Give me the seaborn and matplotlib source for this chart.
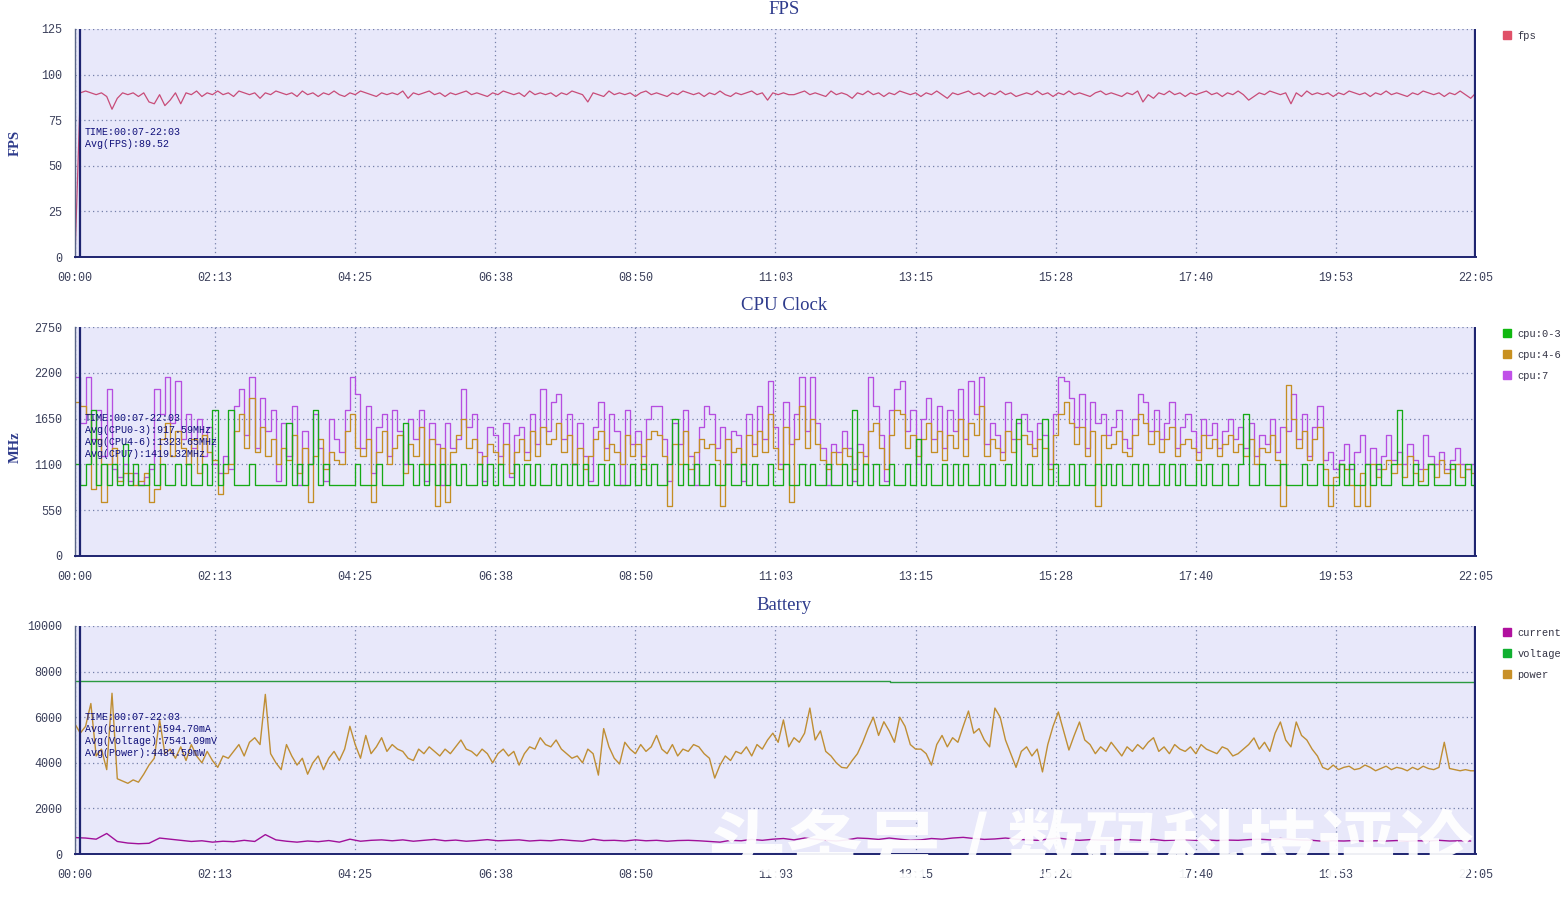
import numpy as np
import matplotlib
matplotlib.use("Agg")
import matplotlib.pyplot as plt
from matplotlib.ticker import MultipleLocator, FixedLocator, FuncFormatter
from matplotlib.lines import Line2D
import seaborn as sns

# ---------------- data ----------------
STEP = 5  # seconds between samples
fps = [
    0, 90, 91, 90, 89, 90, 88, 81, 87, 90,
    89, 90, 88, 90, 85, 84, 89, 83, 86, 90,
    84, 90, 89, 91, 88, 90, 89, 91, 89, 90,
    88, 91, 90, 89, 90, 87, 90, 89, 91, 90,
    89, 90, 88, 91, 89, 90, 88, 90, 89, 91,
    89, 88, 90, 89, 91, 90, 89, 88, 90, 89,
    90, 89, 91, 87, 90, 89, 90, 91, 89, 90,
    88, 90, 89, 90, 91, 89, 90, 89, 88, 90,
    89, 91, 90, 89, 90, 88, 91, 89, 90, 89,
    90, 88, 90, 89, 91, 90, 89, 85, 90, 89,
    88, 91, 89, 90, 89, 90, 88, 90, 91, 89,
    90, 89, 88, 90, 89, 91, 90, 89, 90, 88,
    90, 89, 91, 89, 88, 90, 89, 90, 91, 89,
    90, 86, 90, 89, 90, 89, 89, 90, 91, 89,
    90, 89, 88, 91, 89, 90, 89, 87, 90, 89,
    91, 89, 90, 88, 90, 89, 91, 90, 89, 90,
    88, 90, 89, 91, 89, 87, 90, 89, 90, 91,
    89, 90, 88, 90, 89, 91, 89, 90, 88, 89,
    90, 89, 91, 89, 90, 88, 90, 89, 91, 89,
    90, 89, 88, 90, 91, 89, 90, 89, 88, 90,
    89, 91, 85, 89, 87, 90, 89, 91, 89, 90,
    88, 90, 89, 90, 91, 89, 90, 88, 90, 89,
    91, 89, 86, 88, 90, 89, 91, 90, 89, 90,
    84, 90, 88, 91, 89, 90, 89, 90, 88, 90,
    89, 91, 90, 89, 90, 88, 90, 89, 91, 89,
    90, 89, 88, 90, 89, 91, 90, 89, 90, 88,
    90, 89, 91, 89, 87, 90,
]

cpu7 = [
    2150, 1600, 2150, 1400, 1750, 1200, 2000, 1050, 950, 1100,
    900, 1000, 850, 950, 1050, 2000, 1700, 2150, 1600, 2100,
    1400, 1700, 1300, 1650, 1200, 1550, 1100, 1000, 1200, 1050,
    1800, 2000, 1450, 2150, 1300, 1900, 1500, 1750, 900, 1600,
    1200, 1800, 850, 1500, 1100, 1700, 1300, 900, 1650, 1400,
    1250, 1750, 2150, 1950, 1300, 1800, 1000, 1550, 1700, 1200,
    1750, 1500, 1100, 1650, 1400, 1750, 900, 1600, 1350, 850,
    1600, 1300, 1400, 2000, 1550, 1700, 1250, 900, 1550, 1450,
    1200, 1600, 950, 1450, 1550, 1250, 1700, 1350, 2000, 1500,
    1850, 1950, 1400, 1700, 1100, 1600, 1200, 900, 1550, 1850,
    1300, 1700, 1500, 850, 1750, 1350, 1500, 1200, 1650, 1800,
    1800, 1400, 900, 1600, 1350, 1750, 1200, 850, 1550, 1800,
    1700, 1300, 1550, 1100, 1500, 1450, 900, 1700, 1350, 1800,
    1400, 2100, 1550, 1100, 1850, 1350, 1700, 2150, 1500, 2150,
    1600, 1300, 850, 1350, 1250, 1500, 1300, 900, 1350, 1200,
    2150, 1800, 1450, 900, 1750, 2000, 2100, 1500, 1750, 1100,
    1650, 1900, 1400, 1800, 1300, 1750, 1500, 2000, 1400, 2100,
    1700, 2150, 1350, 1600, 1450, 1250, 1850, 1400, 1600, 1700,
    1500, 1300, 1600, 1450, 1100, 1700, 2150, 2100, 1900, 1550,
    1950, 1300, 1850, 1600, 1700, 1450, 1550, 1750, 1400, 1300,
    1650, 1950, 1850, 1500, 1750, 1400, 1600, 1850, 1300, 1550,
    1700, 1500, 1250, 1650, 1450, 1600, 1300, 1500, 1650, 1400,
    1550, 1300, 1600, 1200, 1450, 1350, 1650, 1250, 1550, 1500,
    1950, 1400, 1700, 1200, 1550, 1800, 1150, 1250, 1050, 1150,
    1350, 1050, 1250, 1450, 1100, 1300, 1050, 1200, 1450, 1150,
    1250, 1100, 1350, 1150, 1050, 1450, 1200, 1100, 1250, 1050,
    1150, 1300, 1100, 1050, 1100, 1150,
]

cpu46 = [
    1850, 1800, 1700, 800, 1400, 650, 1100, 1300, 900, 1000,
    1000, 850, 900, 1000, 650, 800, 1400, 1600, 1200, 1500,
    1300, 1100, 1400, 1000, 1450, 1250, 1150, 750, 1000, 1100,
    1500, 1700, 1300, 1900, 1250, 1550, 1200, 1400, 1100, 1300,
    1150, 1450, 1000, 1300, 650, 1200, 1400, 1050, 1250, 1150,
    1100, 1500, 1700, 1300, 1200, 1400, 650, 1250, 1500, 1100,
    1300, 1450, 1000, 1350, 1200, 1550, 1100, 1400, 600, 1300,
    650, 1250, 1450, 1650, 1300, 1400, 1100, 1200, 1350, 1250,
    1100, 1350, 1000, 1250, 1400, 1150, 1500, 1200, 1550, 1350,
    1400, 1600, 1250, 1450, 1100, 1300, 1050, 1200, 1400, 1500,
    1150, 1350, 1250, 1100, 1450, 1200, 1350, 1050, 1400, 1500,
    1450, 1200, 600, 1350, 1100, 1500, 1050, 1250, 1400, 1300,
    1350, 1150, 600, 1400, 1250, 1300, 1100, 1450, 1200, 1500,
    1250, 1700, 1300, 1050, 1550, 650, 1400, 1800, 1300, 1650,
    1350, 1150, 1050, 1250, 1100, 1300, 1200, 1050, 1250, 1100,
    1500, 1600, 1300, 1050, 1450, 1750, 1700, 1300, 1450, 1200,
    1400, 1600, 1250, 1500, 1150, 1450, 1300, 1650, 1200, 1600,
    1450, 1800, 1200, 1400, 1300, 1150, 1500, 1250, 1400, 1450,
    1350, 1200, 1400, 1300, 1050, 1450, 1700, 1850, 1600, 1350,
    1550, 1200, 1500, 600, 1450, 1300, 1350, 1500, 1250, 1200,
    1450, 1700, 1600, 1350, 1500, 1250, 1400, 1550, 1200, 1350,
    1400, 1300, 1150, 1450, 1300, 1400, 1200, 1350, 1450, 1250,
    1350, 1200, 1400, 1100, 1300, 1250, 1450, 1150, 600, 2050,
    1650, 1300, 1500, 1150, 1400, 1550, 1050, 600, 950, 1100,
    1050, 850, 600, 1000, 600, 1100, 950, 1050, 1150, 1000,
    1100, 950, 1200, 1000, 900, 1050, 1100, 950, 1150, 1000,
    1050, 1100, 950, 1050, 1000, 650,
]

cpu03 = [
    1100, 850, 1100, 1750, 850, 1100, 850, 1100, 850, 1350,
    850, 1100, 850, 850, 1100, 850, 1100, 850, 850, 1100,
    850, 1100, 850, 850, 1100, 850, 1750, 850, 1100, 1750,
    850, 850, 850, 1100, 850, 850, 850, 850, 850, 850,
    1600, 850, 1100, 850, 1100, 1750, 850, 1100, 850, 850,
    850, 850, 850, 1100, 850, 850, 850, 1100, 850, 850,
    850, 850, 1600, 1100, 850, 1100, 850, 1100, 850, 1100,
    850, 1100, 850, 1100, 850, 850, 1100, 850, 1100, 850,
    1100, 850, 850, 1100, 850, 1100, 850, 1100, 850, 850,
    1100, 850, 1100, 850, 1100, 850, 1100, 850, 850, 1100,
    850, 1100, 850, 850, 850, 1100, 850, 1100, 850, 1100,
    850, 850, 1100, 1650, 850, 1100, 850, 1100, 850, 850,
    1100, 850, 850, 1100, 850, 850, 1100, 850, 1100, 850,
    850, 1100, 850, 850, 1100, 850, 850, 1100, 850, 1100,
    850, 850, 1100, 850, 850, 1100, 850, 1750, 850, 1100,
    850, 1100, 850, 850, 1100, 850, 850, 1100, 850, 1400,
    850, 1100, 850, 850, 1100, 850, 1100, 850, 1100, 850,
    850, 1100, 850, 1100, 850, 850, 1100, 850, 1650, 850,
    1100, 850, 850, 1650, 850, 1100, 850, 850, 1100, 850,
    1100, 850, 850, 1100, 850, 1100, 850, 1100, 850, 850,
    1100, 850, 1100, 850, 850, 1100, 850, 1100, 850, 1100,
    850, 850, 1100, 850, 1100, 850, 850, 1100, 850, 850,
    1100, 1700, 850, 850, 1100, 850, 850, 850, 1100, 850,
    850, 850, 1100, 850, 850, 1100, 850, 850, 850, 1100,
    850, 1100, 850, 850, 1100, 850, 1100, 850, 850, 1100,
    1750, 850, 850, 1100, 850, 850, 1100, 850, 850, 850,
    1100, 850, 850, 1100, 850, 850,
]

power = [
    5700, 5300, 5600, 6600, 4300, 4600, 3700, 7050, 3300, 3200,
    3100, 3250, 3150, 3500, 3900, 4200, 5900, 4400, 4600, 4200,
    4700, 4100, 4800, 4300, 4000, 4500, 4100, 3800, 4300, 4200,
    4500, 4800, 4300, 4900, 5100, 4800, 7000, 4400, 4000, 3700,
    4800, 4300, 3900, 4200, 3500, 4000, 4300, 3700, 4200, 4500,
    4100, 4600, 5600, 4800, 4200, 5200, 4400, 4700, 5100, 4500,
    4800, 4600, 4500, 4200, 4100, 4600, 4400, 4700, 4500, 4300,
    4600, 4400, 4700, 5000, 4600, 4500, 4300, 4600, 4400, 4000,
    4400, 4600, 4300, 4500, 3900, 4400, 4700, 4600, 5100, 4800,
    4700, 5000, 4600, 4400, 4200, 4300, 4000, 4600, 4400, 3460,
    5500, 4700, 4200, 3950, 4900, 4600, 4400, 4800, 4500, 4700,
    5200, 4600, 4400, 4800, 4300, 4600, 4500, 4800, 4700, 4400,
    4200, 3330, 3900, 4300, 4100, 4500, 4400, 4700, 4300, 4800,
    4600, 5000, 5300, 4900, 5880, 4700, 5100, 4900, 5300, 6400,
    5000, 5400, 4500, 4300, 4000, 3800, 3770, 4100, 4400, 4900,
    5500, 6000, 5200, 5800, 5400, 4900, 6000, 5600, 4800, 4600,
    4600, 4400, 3900, 4800, 5200, 4700, 5100, 4900, 5600, 6270,
    5300, 5500, 5000, 4700, 6400, 6000, 5000, 4400, 3800, 4500,
    4700, 4300, 4600, 3600, 4800, 5600, 6230, 5400, 4560, 5200,
    5790, 5000, 4800, 4400, 4700, 4500, 4900, 4600, 4300, 4700,
    4500, 4800, 4600, 4900, 5100, 4500, 4700, 4400, 4800, 4600,
    4500, 4700, 4400, 4800, 4600, 4500, 4400, 4700, 4600, 4300,
    4400, 4600, 4800, 5090, 4600, 4900, 4500, 5300, 5790, 5000,
    4700, 5790, 5200, 5000, 4600, 4300, 3800, 3700, 3900, 3700,
    3800, 3850, 3700, 3750, 3900, 3800, 3650, 3750, 3850, 3700,
    3800, 3750, 3650, 3800, 3700, 3850, 3750, 3700, 3800, 4900,
    3750, 3700, 3650, 3700, 3650, 3650,
]

CUR_STEP = 10
current = [
    720, 700, 650, 900, 550, 480, 450, 470, 700, 650,
    600, 550, 580, 520, 560, 540, 600, 550, 850, 620,
    560, 520, 570, 540, 590, 520, 650, 560, 600, 620,
    580, 620, 560, 600, 640, 580, 610, 560, 590, 630,
    580, 600, 620, 570, 600, 580, 630, 590, 560, 650,
    590, 600, 570, 620, 580, 600, 560, 590, 600, 580,
    550, 520, 600, 580, 640, 600, 650, 680, 620, 700,
    650, 600, 570, 620, 700, 680, 640, 700, 650, 600,
    620, 680, 650, 700, 730, 680, 640, 660, 700, 650,
    620, 600, 650, 700, 640, 600, 630, 610, 600, 640,
    620, 600, 640, 590, 610, 630, 600, 620, 590, 610,
    600, 630, 650, 620, 680, 640, 610, 600, 560, 580,
    570, 590, 560, 580, 570, 590, 560, 580, 570, 600,
    570, 580, 570,
]

volt_t = [0, 190, 771, 1325]
volt_v = [7590, 7575, 7535, 7535]

x_ticks = [0, 132.5, 265, 397.5, 530, 662.5, 795, 927.5, 1060, 1192.5, 1325]
titles = ["FPS", "CPU Clock", "Battery"]
notes = [
    ["TIME:00:07-22:03", "Avg(FPS):89.52"],
    ["TIME:00:07-22:03", "Avg(CPU0-3):917.59MHz", "Avg(CPU4-6):1323.65MHz", "Avg(CPU7):1419.32MHz"],
    ["TIME:00:07-22:03", "Avg(Current):594.70mA", "Avg(Voltage):7541.09mV", "Avg(Power):4484.59mW"],
]

# ---------------- style ----------------
sns.set_style("white")
plt.rcParams["font.family"] = ["Liberation Mono", "DejaVu Sans"]

W, H = 1563, 897
fig = plt.figure(figsize=(W / 100, H / 100), dpi=100)
fig.patch.set_facecolor("white")

BG = "#E8E8FA"
GRID = "#7480AA"
NAVY = "#1E2470"
TITLE_C = "#2E3B8C"
TICK_C = "#3A3F5A"

def fx(px):
    return px / W

def fy(py):
    return 1 - py / H

panels = [(29, 257), (327, 556), (626, 854)]
axes = []
for (top, bot) in panels:
    ax = fig.add_axes([fx(75), fy(bot), fx(1476) - fx(75), (bot - top) / H])
    axes.append(ax)

def mmss(v, pos=None):
    s = int(v + 0.5)
    return f"{s // 60:02d}:{s % 60:02d}"

def style_axis(ax, ymax, major, minor):
    ax.set_facecolor(BG)
    ax.set_xlim(0, 1325)
    ax.set_ylim(0, ymax)
    ax.xaxis.set_major_locator(FixedLocator(x_ticks))
    ax.xaxis.set_minor_locator(FixedLocator([t + 66.25 for t in x_ticks[:-1]]))
    ax.xaxis.set_major_formatter(FuncFormatter(mmss))
    ax.yaxis.set_major_locator(MultipleLocator(major))
    ax.yaxis.set_minor_locator(MultipleLocator(minor))
    ax.grid(True, which="major", color=GRID, linestyle=(0, (1, 2.5)), linewidth=0.9)
    ax.set_axisbelow(True)
    for s in ["top", "right"]:
        ax.spines[s].set_visible(False)
    ax.spines["left"].set_color("#5A6688")
    ax.spines["left"].set_linewidth(1.0)
    ax.spines["bottom"].set_color(NAVY)
    ax.spines["bottom"].set_linewidth(1.4)
    ax.tick_params(axis="y", which="major", direction="out", length=6, width=1, color="#5A6688",
                   labelsize=8.5, labelcolor=TICK_C, pad=3)
    ax.tick_params(axis="y", which="minor", direction="out", length=4, width=0.8, color="#5A6688")
    ax.tick_params(axis="x", which="both", direction="out", length=6, width=1, color=NAVY,
                   labelsize=8.5, labelcolor=TICK_C, pad=5)
    ax.set_xlabel("")
    ax.set_ylabel("")
    ax.axvline(5, color=NAVY, lw=1.6, zorder=5)
    ax.axvline(1324, color=NAVY, lw=1.6, zorder=5)

# ---- FPS ----
ax = axes[0]
t_fps = np.arange(len(fps)) * STEP
sns.lineplot(x=t_fps, y=fps, ax=ax, color="#C84C78", linewidth=0.9)
style_axis(ax, 125, 25, 5)

# ---- CPU ----
ax = axes[1]
t_cpu = np.arange(len(cpu7)) * STEP
sns.lineplot(x=t_cpu, y=cpu7, ax=ax, color="#B64EE0", linewidth=0.95, drawstyle="steps-post")
sns.lineplot(x=np.arange(len(cpu46)) * STEP, y=cpu46, ax=ax, color="#C48E24", linewidth=0.95,
             drawstyle="steps-post")
sns.lineplot(x=np.arange(len(cpu03)) * STEP, y=cpu03, ax=ax, color="#16AA16", linewidth=0.95,
             drawstyle="steps-post")
style_axis(ax, 2750, 550, 110)

# ---- Battery ----
ax = axes[2]
sns.lineplot(x=volt_t, y=volt_v, ax=ax, color="#2A9A40", linewidth=1.0, drawstyle="steps-post")
sns.lineplot(x=np.arange(len(power)) * STEP, y=power, ax=ax, color="#BF8E34", linewidth=1.0)
sns.lineplot(x=np.arange(len(current)) * CUR_STEP, y=current, ax=ax, color="#A0109A", linewidth=1.0)
style_axis(ax, 10000, 2000, 400)

# ---- titles / labels ----
title_y = [9, 306, 605]
for t, yy in zip(titles, title_y):
    fig.text(fx(784), fy(yy), t, ha="center", va="center", fontsize=13.5,
             family=["Liberation Serif", "DejaVu Serif"], color=TITLE_C)

fig.text(fx(15), fy(143), "FPS", rotation=90, ha="center", va="center", fontsize=10.5,
         family=["Liberation Serif"], weight="bold", color=TITLE_C)
fig.text(fx(15), fy(447), "MHz", rotation=90, ha="center", va="center", fontsize=10.5,
         family=["Liberation Serif"], weight="bold", color=TITLE_C)

note_top = [132, 418, 717]
for lines, y0 in zip(notes, note_top):
    for k, line in enumerate(lines):
        fig.text(fx(85), fy(y0 + 12 * k), line, ha="left", va="center", fontsize=7.2,
                 color="#10107A", zorder=10)

# ---- legends ----
legend_specs = [
    (["fps"], ["#E05068"], 36),
    (["cpu:0-3", "cpu:4-6", "cpu:7"], ["#10B810", "#C89020", "#C050E8"], 334),
    (["current", "voltage", "power"], ["#B0109E", "#10B030", "#C89028"], 633),
]
for labels, colors, y0 in legend_specs:
    handles = [Line2D([], [], marker="s", linestyle="none", markersize=6, markerfacecolor=c,
                      markeredgecolor=c) for c in colors]
    fig.legend(handles, labels, loc="upper left", bbox_to_anchor=(fx(1503), fy(y0 - 5)),
               frameon=False, fontsize=7.5, labelcolor="#333344", handlelength=0.8,
               handletextpad=0.6, labelspacing=1.05, borderaxespad=0, borderpad=0)

# ---- watermark ----
fig.text(fx(708), fy(852), "头条号 / 数码科技评论", ha="left", va="center", fontsize=56,
         family=["Noto Sans CJK SC", "DejaVu Sans"], weight="bold", color="white", alpha=0.93,
         zorder=20)

fig.savefig("out.png", dpi=100, facecolor="white")
